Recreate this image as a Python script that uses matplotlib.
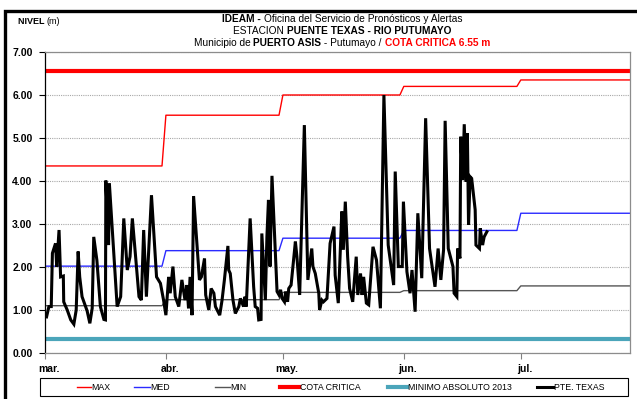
import numpy as np
import matplotlib
matplotlib.use('Agg')
import matplotlib.pyplot as plt
import matplotlib.transforms as mtransforms
from matplotlib.lines import Line2D
from matplotlib.patches import Rectangle

W, H = 637, 399
FONT = ['Liberation Sans', 'DejaVu Sans']

# monthly reference levels (m)
month_labels = ['mar.', 'abr.', 'may.', 'jun.', 'jul.']
month_days = [31, 30, 31, 30, 29]
max_level = [4.35, 5.53, 6.00, 6.20, 6.35]
med_level = [2.02, 2.38, 2.67, 2.85, 3.25]
min_level = [1.10, 1.24, 1.41, 1.45, 1.56]
cota_critica = 6.55
minimo_2013 = 0.32

# PTE. TEXAS readings: days since 1 March, level (m)
pte_day = [0.4, 1.0, 1.6, 1.9, 2.7, 3.0, 3.6, 4.0, 4.7, 4.8, 5.7, 6.6, 7.4, 8.0, 8.5,
           8.9, 9.5, 10.4, 10.8, 11.5, 12.1, 12.5, 13.3, 14.2, 15.1, 15.5, 15.6, 16.3,
           16.5, 18.5, 19.4, 20.2, 21.1, 21.8, 22.4, 24.1, 24.7, 25.3, 26.0, 27.3, 28.6,
           29.6, 30.4, 31.0, 31.7, 32.1, 32.8, 33.4, 34.3, 35.1, 35.9, 36.4, 36.8, 37.2,
           37.7, 38.1, 39.6, 40.1, 40.9, 41.2, 42.0, 42.6, 43.3, 43.7, 44.8, 45.4, 46.0,
           46.9, 47.1, 47.5, 48.2, 48.8, 49.7, 50.1, 50.9, 51.3, 51.6, 52.6, 53.5, 53.9,
           54.5, 54.8, 55.4, 55.6, 56.5, 56.9, 57.3, 57.7, 58.2, 59.5, 60.0, 60.4, 60.8,
           61.4, 61.7, 62.2, 62.5, 63.1, 64.2, 64.6, 65.3, 66.5, 67.4, 68.4, 68.7, 69.3,
           70.2, 70.4, 71.0, 71.4, 72.3, 73.1, 74.1, 74.4, 75.2, 76.1, 76.5, 77.0, 77.6,
           78.1, 78.9, 79.8, 80.2, 80.9, 81.3, 81.7, 82.4, 83.0, 84.1, 85.0, 86.0, 86.9,
           88.0, 89.4, 89.8, 90.6, 91.6, 91.9, 92.8, 93.6, 94.1, 94.9, 95.6, 96.6, 97.6,
           98.6, 100.0, 100.8, 101.5, 102.2, 102.6, 103.4, 104.6, 104.9, 105.6, 105.8,
           106.4, 106.6, 107.1, 107.5, 108.0, 108.3, 108.6, 109.0, 109.4, 110.3, 110.5,
           111.4, 111.6, 112.2, 112.6, 113.3]
pte_level = [0.84, 1.08, 1.08, 2.32, 2.55, 2.01, 2.86, 1.77, 1.79, 1.19, 1.00, 0.77, 0.67,
             1.00, 2.36, 1.77, 1.31, 1.08, 0.98, 0.69, 1.04, 2.70, 2.16, 1.08, 0.78, 0.77,
             4.01, 2.51, 3.95, 1.08, 1.31, 3.13, 1.93, 2.24, 3.13, 1.31, 1.23, 2.86, 1.31,
             3.67, 1.77, 1.62, 1.23, 0.88, 1.77, 1.39, 2.01, 1.31, 1.08, 1.70, 1.23, 1.58,
             1.04, 1.77, 0.88, 3.65, 1.70, 1.77, 2.20, 1.35, 1.00, 1.50, 1.39, 1.08, 0.88,
             1.23, 1.70, 2.49, 1.93, 1.85, 1.23, 0.92, 1.08, 1.27, 1.08, 1.31, 1.08, 3.13,
             1.54, 1.08, 1.04, 0.77, 0.78, 2.78, 1.23, 2.70, 3.56, 2.01, 4.12, 1.43, 1.35,
             1.47, 1.27, 1.19, 1.43, 1.19, 1.50, 1.58, 2.59, 2.24, 1.35, 5.30, 1.70, 2.43,
             2.01, 1.85, 1.39, 1.00, 1.23, 1.19, 1.27, 2.55, 2.94, 1.81, 1.16, 3.29, 2.40,
             3.52, 2.24, 1.50, 1.19, 2.24, 1.35, 1.85, 1.35, 1.77, 1.16, 1.12, 2.47, 2.16,
             1.04, 6.00, 2.51, 1.58, 4.22, 2.01, 2.01, 3.52, 1.89, 1.39, 1.93, 0.96, 3.25,
             1.74, 5.46, 2.43, 1.54, 2.43, 1.70, 2.40, 5.40, 2.43, 2.01, 1.39, 1.31, 2.43,
             2.20, 5.03, 4.02, 5.32, 3.98, 5.11, 2.98, 4.10, 4.06, 3.33, 2.51, 2.43, 2.90,
             2.51, 2.70, 2.82]

legend_labels = ['MAX', 'MED', 'MIN', 'COTA CRITICA', 'MINIMO ABSOLUTO 2013', 'PTE. TEXAS']
colors = ['#FF0000', '#2B2BFF', '#555555', '#FF0000', '#4BA5BA', '#000000']
widths = [1.0, 1.0, 1.0, 3.0, 3.0, 2.2]

days = np.arange(sum(month_days))
month_start = np.cumsum([0] + month_days[:-1])
daily_max = np.repeat(max_level, month_days)
daily_med = np.repeat(med_level, month_days)
daily_min = np.repeat(min_level, month_days)

fig = plt.figure(figsize=(W / 100, H / 100), dpi=100)
ax = fig.add_axes([45 / W, 1 - 353 / H, 585 / W, 301 / H])

ax.plot(days, daily_max, color=colors[0], lw=widths[0])
ax.plot(days, daily_med, color=colors[1], lw=widths[1])
ax.plot(days, daily_min, color=colors[2], lw=widths[2])
ax.axhline(cota_critica, color=colors[3], lw=widths[3])
ax.axhline(minimo_2013, color=colors[4], lw=widths[4])
ax.plot(pte_day, pte_level, color=colors[5], lw=widths[5], solid_joinstyle='miter')

ax.set_xlim(0, days[-1])
ax.set_ylim(0, 7)
ax.set_yticks(np.arange(0, 8))
ax.set_yticklabels([f'{v:.2f}' for v in range(8)])
ax.set_xticks(month_start)
ax.set_xticklabels(month_labels)
for lab in ax.get_xticklabels() + ax.get_yticklabels():
    lab.set_fontweight('bold')
    lab.set_family(FONT)
    lab.set_fontsize(7.5)
ax.tick_params(axis='y', direction='out', length=4, width=0.8, pad=5, color='#000000')
ax.tick_params(axis='x', direction='out', length=4, width=0.8, pad=4, color='#808080')

# month names sit slightly right of their tick
offset = mtransforms.ScaledTranslation(4 / 100, 0, fig.dpi_scale_trans)
for lab in ax.get_xticklabels():
    lab.set_transform(lab.get_transform() + offset)

ax.yaxis.grid(True, color='#A8A8A8', lw=0.8, linestyle=(0, (1, 1)))
ax.set_axisbelow(True)
ax.spines['left'].set_color('#000000')
for side in ['top', 'right', 'bottom']:
    ax.spines[side].set_color('#8C8C8C')
for side in ax.spines:
    ax.spines[side].set_linewidth(0.9)

# header
renderer = fig.canvas.get_renderer()


def rich_line(y, parts, cx=342, size=7.3):
    texts = [fig.text(0, 1 - y / H, s, fontsize=size, fontweight=w, color=c,
                      family=FONT, va='center', ha='left') for s, w, c in parts]
    ws = [t.get_window_extent(renderer).width for t in texts]
    x = cx - sum(ws) / 2
    for t, w in zip(texts, ws):
        t.set_x(x / W)
        x += w


rich_line(18.5, [('IDEAM - ', 'bold', 'black'),
                 ('Oficina del Servicio de Pronósticos y Alertas', 'normal', 'black')])
rich_line(30.5, [('ESTACION ', 'normal', 'black'),
                 ('PUENTE TEXAS - RIO PUTUMAYO', 'bold', 'black')])
rich_line(42.5, [('Municipio de ', 'normal', 'black'),
                 ('PUERTO ASIS', 'bold', 'black'),
                 (' - Putumayo / ', 'normal', 'black'),
                 ('COTA CRITICA 6.55 m', 'bold', '#FF0000')])

t1 = fig.text(18 / W, 1 - 21 / H, 'NIVEL ', fontsize=6.5, fontweight='bold',
              family=FONT, va='center')
fig.text((18 + t1.get_window_extent(renderer).width) / W, 1 - 21 / H, '(m)',
         fontsize=6.5, family=FONT, va='center')

# legend box
fig.add_artist(Rectangle((40 / W, 1 - 396 / H), 588 / W, 18 / H, transform=fig.transFigure,
                         fill=False, edgecolor='black', lw=0.8))
handle_x = [(77, 91), (134, 150), (215, 230), (280, 299), (388, 407), (537, 553)]
ly = 1 - 387 / H
for (x0, x1), lab, c, lw in zip(handle_x, legend_labels, colors, widths):
    fig.add_artist(Line2D([x0 / W, x1 / W], [ly, ly], color=c, lw=lw,
                          transform=fig.transFigure))
    fig.text((x1 + 0.5) / W, ly, lab, fontsize=6.3, family=FONT, va='center', ha='left')

# outer frame
fig.add_artist(Line2D([4.5 / W, 4.5 / W, 1], [0, 1 - 10.5 / H, 1 - 10.5 / H],
                      color='black', lw=2.4, transform=fig.transFigure,
                      solid_joinstyle='miter'))

fig.savefig('out.png', dpi=100)
